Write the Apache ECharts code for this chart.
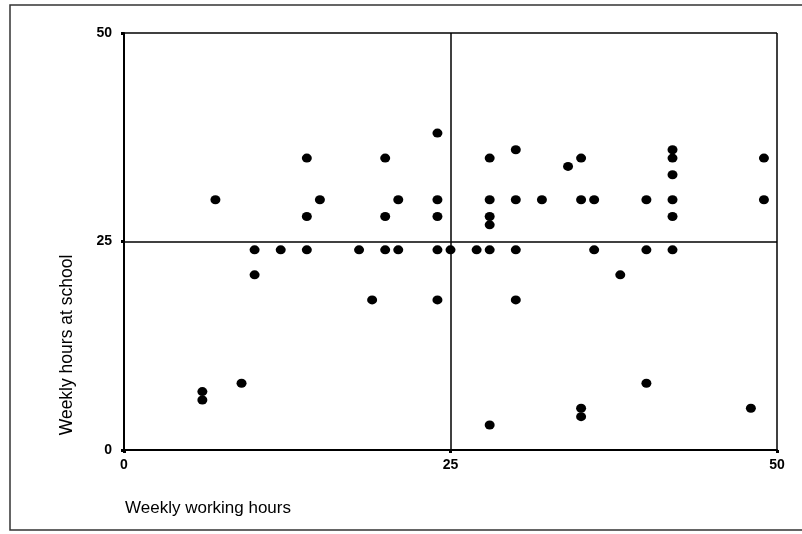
<!DOCTYPE html>
<html>
<head>
<meta charset="utf-8">
<script src="https://cdn.jsdelivr.net/npm/echarts@6/dist/echarts.min.js"></script>
<style>
html,body{margin:0;padding:0;background:#fff;}
#chart{width:802px;height:534px;}
</style>
</head>
<body>
<div id="chart"></div>
<script>
// Weekly working hours (x) and weekly hours at school (y), one entry per respondent
var workHours = [6, 6, 7, 9, 10, 10, 12, 14, 14, 14, 15, 18, 19, 20, 20, 20, 21, 21,
  24, 24, 24, 24, 24, 25, 27, 28, 28, 28, 28, 28, 28, 30, 30, 30, 30, 32, 34, 35, 35,
  35, 35, 36, 36, 38, 40, 40, 40, 42, 42, 42, 42, 42, 42, 48, 49, 49];
var schoolHours = [7, 6, 30, 8, 24, 21, 24, 35, 28, 24, 30, 24, 18, 35, 28, 24, 30, 24,
  38, 30, 28, 24, 18, 24, 24, 35, 30, 28, 27, 24, 3, 36, 30, 24, 18, 30, 34, 35, 30,
  5, 4, 30, 24, 21, 30, 24, 8, 36, 35, 33, 30, 28, 24, 5, 35, 30];
var xTicks = [0, 25, 50];
var yTicks = [0, 25, 50];
var xName = 'Weekly working hours';
var yName = 'Weekly hours at school';

var points = workHours.map(function (x, i) { return [x, schoolHours[i]]; });

var chart = echarts.init(document.getElementById('chart'));
var font = '"Liberation Sans", Arial, sans-serif';
chart.setOption({
  animation: false,
  backgroundColor: '#fff',
  grid: { left: 124, right: 25, top: 33, bottom: 84 },
  xAxis: {
    type: 'value', min: xTicks[0], max: xTicks[xTicks.length - 1], interval: 25,
    axisLine: { show: true, lineStyle: { color: '#000', width: 2 } },
    axisTick: { show: true, length: 3, lineStyle: { color: '#000', width: 3 } },
    axisLabel: { color: '#000', fontSize: 14, fontFamily: font, fontWeight: 'bold', margin: 8 },
    splitLine: { show: true, lineStyle: { color: '#000', width: 1.5 } }
  },
  yAxis: {
    type: 'value', min: yTicks[0], max: yTicks[yTicks.length - 1], interval: 25,
    axisLine: { show: true, lineStyle: { color: '#000', width: 2 } },
    axisTick: { show: true, length: 3, lineStyle: { color: '#000', width: 3 } },
    axisLabel: { color: '#000', fontSize: 14, fontFamily: font, fontWeight: 'bold', margin: 12 },
    splitLine: { show: true, lineStyle: { color: '#000', width: 1.5 } }
  },
  graphic: [
    { type: 'rect', shape: { x: 10, y: 5, width: 800, height: 525 },
      style: { fill: 'none', stroke: '#333', lineWidth: 1.5 }, silent: true, z: -1 },
    { type: 'text', left: 125, top: 500,
      style: { text: xName, fill: '#000', font: '17px ' + font } },
    { type: 'text', x: 67, y: 345, rotation: Math.PI / 2,
      style: { text: yName, fill: '#000', font: '17.5px ' + font, align: 'center', verticalAlign: 'middle' } }
  ],
  series: [{
    type: 'scatter',
    data: points,
    symbol: 'circle',
    symbolSize: [10, 9],
    itemStyle: { color: '#000', opacity: 1 }
  }]
});
</script>
</body>
</html>
